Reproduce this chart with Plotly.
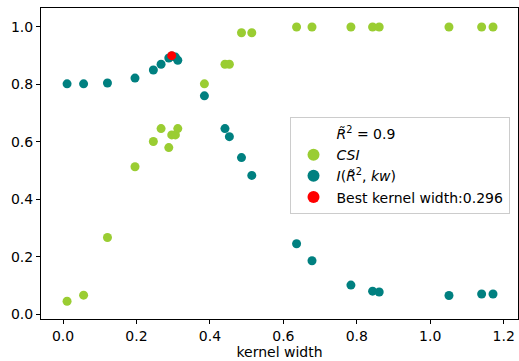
import plotly.graph_objects as go

kernel_width = [0.011, 0.056, 0.121, 0.196, 0.246, 0.267, 0.288, 0.296, 0.306, 0.3125,
                0.385, 0.441, 0.453, 0.486, 0.514, 0.636, 0.678, 0.784, 0.843, 0.861,
                1.051, 1.140, 1.171]
csi = [0.045, 0.066, 0.267, 0.513, 0.601, 0.646, 0.580, 0.624, 0.624, 0.646,
       0.802, 0.870, 0.870, 0.980, 0.980, 1.0, 1.0, 1.0, 1.0, 1.0,
       1.0, 1.0, 1.0]
i_values = [0.802, 0.802, 0.805, 0.822, 0.850, 0.870, 0.892, 0.899, 0.895, 0.884,
            0.760, 0.646, 0.618, 0.545, 0.483, 0.245, 0.186, 0.101, 0.080, 0.077,
            0.065, 0.070, 0.070]
best_kw = [0.296]
best_val = [0.9]
r2_label = "<i>R̃</i><sup>2</sup> = 0.9"

FONT = "DejaVu Sans"
FS = 14

fig = go.Figure()
fig.add_trace(go.Scatter(x=[None], y=[None], mode="markers", name=r2_label,
                         marker=dict(size=9, color="rgba(0,0,0,0)")))
fig.add_trace(go.Scatter(x=kernel_width, y=csi, mode="markers", name="<i>CSI</i>",
                         marker=dict(size=9, color="#9ACD32")))
fig.add_trace(go.Scatter(x=kernel_width, y=i_values, mode="markers",
                         name="<i>I</i>(<i>R̃</i><sup>2</sup>, <i>kw</i>)",
                         marker=dict(size=9, color="#008080")))
fig.add_trace(go.Scatter(x=best_kw, y=best_val, mode="markers",
                         name="Best kernel width:%.3f" % best_kw[0],
                         marker=dict(size=9, color="#FF0000")))

axis_common = dict(showgrid=False, zeroline=False, showline=True, linecolor="black",
                   linewidth=1, mirror=True, ticks="outside", ticklen=4,
                   tickcolor="black", tickfont=dict(family=FONT, size=FS, color="black"))

fig.update_layout(
    width=519, height=361,
    margin=dict(l=41, r=1, t=8, b=42, autoexpand=False),
    paper_bgcolor="white", plot_bgcolor="white",
    font=dict(family=FONT, size=FS, color="black"),
    xaxis=dict(range=[-0.06, 1.239], tickvals=[0.0, 0.2, 0.4, 0.6, 0.8, 1.0, 1.2],
               ticktext=["0.0", "0.2", "0.4", "0.6", "0.8", "1.0", "1.2"],
               title=dict(text="kernel width", font=dict(family=FONT, size=FS), standoff=2),
               **axis_common),
    yaxis=dict(range=[-0.017, 1.066], tickvals=[0.0, 0.2, 0.4, 0.6, 0.8, 1.0],
               ticktext=["0.0", "0.2", "0.4", "0.6", "0.8", "1.0"],
               **axis_common),
    showlegend=True,
    legend=dict(x=0.521, y=0.65, xanchor="left", yanchor="top",
                bgcolor="rgba(255,255,255,0.8)", bordercolor="#cccccc", borderwidth=1,
                font=dict(family=FONT, size=FS, color="black"),
                itemsizing="constant", itemwidth=36, tracegroupgap=0),
)

fig.write_html("out.html", config={"displayModeBar": False},
               post_script="document.body.style.margin='0';document.body.style.padding='0';")
